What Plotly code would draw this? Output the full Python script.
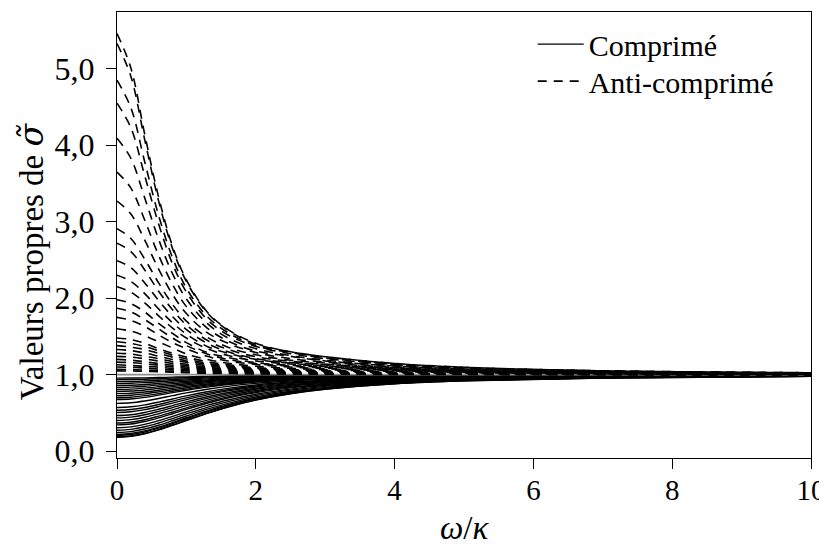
import plotly.graph_objects as go

# frequency grid (omega / kappa)
omega = [0, 0.2, 0.4, 0.6, 0.8, 1.0, 1.3, 1.6, 2.0, 2.5, 3.0, 4.0, 5.0, 7.0, 10.0]

# anti-squeezed eigenvalues (dashed), one list per curve
anti = [
    [5.46, 5.01, 4.14, 3.32, 2.68, 2.24, 1.82, 1.59, 1.41, 1.30, 1.235, 1.147, 1.098, 1.051, 1.026],
    [5.33, 4.90, 4.07, 3.27, 2.65, 2.22, 1.81, 1.58, 1.40, 1.30, 1.235, 1.146, 1.096, 1.051, 1.026],
    [4.85, 4.49, 3.78, 3.08, 2.53, 2.13, 1.76, 1.55, 1.38, 1.29, 1.22, 1.138, 1.091, 1.050, 1.024],
    [4.55, 4.23, 3.60, 2.97, 2.45, 2.08, 1.72, 1.52, 1.37, 1.275, 1.21, 1.132, 1.088, 1.048, 1.022],
    [4.09, 3.83, 3.31, 2.77, 2.32, 1.99, 1.67, 1.48, 1.34, 1.25, 1.19, 1.123, 1.082, 1.045, 1.022],
    [3.65, 3.44, 3.02, 2.56, 2.18, 1.89, 1.61, 1.44, 1.31, 1.24, 1.18, 1.114, 1.076, 1.040, 1.019],
    [3.27, 3.10, 2.76, 2.38, 2.05, 1.80, 1.55, 1.41, 1.29, 1.21, 1.166, 1.105, 1.070, 1.037, 1.018],
    [2.91, 2.78, 2.51, 2.20, 1.92, 1.70, 1.49, 1.36, 1.26, 1.19, 1.152, 1.095, 1.064, 1.034, 1.016],
    [2.72, 2.61, 2.37, 2.09, 1.85, 1.65, 1.45, 1.33, 1.235, 1.175, 1.138, 1.089, 1.059, 1.032, 1.016],
    [2.49, 2.40, 2.20, 1.97, 1.76, 1.59, 1.41, 1.30, 1.21, 1.16, 1.128, 1.081, 1.054, 1.029, 1.014],
    [2.30, 2.22, 2.06, 1.86, 1.68, 1.53, 1.37, 1.28, 1.20, 1.15, 1.117, 1.074, 1.050, 1.027, 1.013],
    [2.15, 2.08, 1.94, 1.77, 1.61, 1.48, 1.34, 1.25, 1.18, 1.14, 1.108, 1.068, 1.045, 1.024, 1.012],
    [1.98, 1.93, 1.82, 1.67, 1.54, 1.42, 1.29, 1.225, 1.157, 1.123, 1.097, 1.062, 1.040, 1.022, 1.011],
    [1.87, 1.82, 1.72, 1.60, 1.48, 1.38, 1.27, 1.20, 1.146, 1.111, 1.088, 1.056, 1.037, 1.019, 1.010],
    [1.75, 1.71, 1.63, 1.52, 1.42, 1.34, 1.24, 1.18, 1.134, 1.100, 1.079, 1.050, 1.034, 1.018, 1.009],
    [1.60, 1.57, 1.51, 1.43, 1.35, 1.27, 1.20, 1.15, 1.110, 1.084, 1.066, 1.042, 1.028, 1.014, 1.007],
    [1.48, 1.46, 1.41, 1.34, 1.28, 1.23, 1.17, 1.128, 1.091, 1.069, 1.055, 1.035, 1.023, 1.013, 1.006],
    [1.43, 1.41, 1.368, 1.312, 1.255, 1.205, 1.149, 1.113, 1.083, 1.063, 1.050, 1.032, 1.021, 1.011, 1.006],
    [1.38, 1.36, 1.33, 1.28, 1.23, 1.18, 1.136, 1.10, 1.074, 1.056, 1.046, 1.029, 1.019, 1.011, 1.005],
    [1.33, 1.315, 1.284, 1.242, 1.199, 1.161, 1.117, 1.089, 1.066, 1.050, 1.040, 1.025, 1.017, 1.009, 1.005],
    [1.28, 1.27, 1.24, 1.21, 1.17, 1.136, 1.10, 1.077, 1.057, 1.044, 1.035, 1.022, 1.016, 1.008, 1.004],
    [1.24, 1.230, 1.208, 1.178, 1.147, 1.119, 1.087, 1.067, 1.049, 1.038, 1.030, 1.019, 1.013, 1.007, 1.003],
    [1.20, 1.19, 1.17, 1.146, 1.123, 1.10, 1.074, 1.056, 1.041, 1.031, 1.025, 1.016, 1.011, 1.006, 1.003],
    [1.165, 1.158, 1.143, 1.124, 1.102, 1.083, 1.061, 1.047, 1.035, 1.027, 1.021, 1.014, 1.009, 1.005, 1.002],
    [1.13, 1.12, 1.11, 1.098, 1.081, 1.066, 1.048, 1.037, 1.028, 1.021, 1.017, 1.011, 1.008, 1.004, 1.002],
    [1.10, 1.096, 1.087, 1.075, 1.063, 1.051, 1.038, 1.029, 1.022, 1.017, 1.013, 1.008, 1.006, 1.003, 1.002],
    [1.07, 1.067, 1.061, 1.053, 1.044, 1.036, 1.026, 1.020, 1.016, 1.011, 1.010, 1.006, 1.005, 1.002, 1.001],
    [1.050, 1.048, 1.044, 1.038, 1.032, 1.026, 1.019, 1.015, 1.011, 1.008, 1.007, 1.004, 1.003, 1.002, 1.001],
]

# squeezed eigenvalues (solid), one list per curve
comp = [
    [0.183, 0.195, 0.228, 0.278, 0.338, 0.401, 0.494, 0.577, 0.668, 0.751, 0.809, 0.880, 0.919, 0.957, 0.978],
    [0.188, 0.199, 0.233, 0.282, 0.342, 0.406, 0.498, 0.581, 0.671, 0.753, 0.811, 0.882, 0.920, 0.957, 0.978],
    [0.206, 0.218, 0.251, 0.301, 0.360, 0.424, 0.515, 0.596, 0.684, 0.764, 0.819, 0.887, 0.924, 0.959, 0.980],
    [0.220, 0.231, 0.265, 0.315, 0.374, 0.437, 0.527, 0.607, 0.693, 0.771, 0.825, 0.891, 0.927, 0.961, 0.980],
    [0.244, 0.256, 0.290, 0.339, 0.398, 0.460, 0.549, 0.626, 0.709, 0.784, 0.835, 0.898, 0.931, 0.963, 0.982],
    [0.274, 0.286, 0.319, 0.369, 0.426, 0.487, 0.573, 0.648, 0.727, 0.798, 0.847, 0.905, 0.936, 0.966, 0.983],
    [0.306, 0.318, 0.351, 0.399, 0.456, 0.515, 0.598, 0.670, 0.745, 0.812, 0.858, 0.912, 0.941, 0.968, 0.984],
    [0.344, 0.355, 0.388, 0.435, 0.490, 0.547, 0.627, 0.695, 0.765, 0.828, 0.870, 0.920, 0.946, 0.972, 0.986],
    [0.368, 0.379, 0.411, 0.458, 0.512, 0.567, 0.645, 0.710, 0.778, 0.837, 0.877, 0.924, 0.949, 0.973, 0.987],
    [0.401, 0.413, 0.444, 0.489, 0.541, 0.595, 0.668, 0.730, 0.794, 0.850, 0.887, 0.931, 0.954, 0.975, 0.988],
    [0.435, 0.446, 0.476, 0.520, 0.570, 0.621, 0.691, 0.750, 0.810, 0.861, 0.896, 0.936, 0.957, 0.977, 0.989],
    [0.466, 0.476, 0.506, 0.548, 0.596, 0.645, 0.712, 0.767, 0.823, 0.871, 0.904, 0.941, 0.961, 0.979, 0.990],
    [0.505, 0.515, 0.543, 0.583, 0.629, 0.675, 0.737, 0.788, 0.840, 0.884, 0.913, 0.947, 0.965, 0.981, 0.991],
    [0.535, 0.545, 0.572, 0.610, 0.654, 0.697, 0.756, 0.804, 0.852, 0.893, 0.920, 0.951, 0.968, 0.983, 0.991],
    [0.572, 0.581, 0.606, 0.642, 0.683, 0.724, 0.778, 0.822, 0.866, 0.904, 0.928, 0.956, 0.971, 0.985, 0.992],
    [0.625, 0.633, 0.657, 0.689, 0.726, 0.762, 0.809, 0.848, 0.886, 0.918, 0.939, 0.963, 0.976, 0.987, 0.994],
    [0.676, 0.683, 0.704, 0.733, 0.765, 0.796, 0.838, 0.871, 0.904, 0.931, 0.949, 0.969, 0.980, 0.989, 0.995],
    [0.699, 0.706, 0.726, 0.753, 0.783, 0.812, 0.851, 0.882, 0.912, 0.937, 0.953, 0.972, 0.981, 0.990, 0.995],
    [0.725, 0.732, 0.750, 0.775, 0.803, 0.830, 0.865, 0.893, 0.920, 0.943, 0.958, 0.975, 0.983, 0.991, 0.996],
    [0.752, 0.758, 0.774, 0.797, 0.823, 0.847, 0.879, 0.904, 0.929, 0.949, 0.962, 0.977, 0.985, 0.992, 0.996],
    [0.781, 0.786, 0.801, 0.821, 0.844, 0.866, 0.894, 0.916, 0.938, 0.956, 0.967, 0.980, 0.987, 0.993, 0.997],
    [0.806, 0.811, 0.825, 0.843, 0.863, 0.882, 0.907, 0.927, 0.946, 0.961, 0.971, 0.983, 0.989, 0.994, 0.997],
    [0.833, 0.838, 0.849, 0.865, 0.883, 0.899, 0.921, 0.938, 0.954, 0.967, 0.976, 0.985, 0.990, 0.995, 0.997],
    [0.858, 0.862, 0.872, 0.886, 0.901, 0.915, 0.933, 0.947, 0.961, 0.972, 0.980, 0.988, 0.992, 0.996, 0.998],
    [0.885, 0.888, 0.896, 0.908, 0.920, 0.931, 0.946, 0.958, 0.969, 0.978, 0.984, 0.990, 0.994, 0.997, 0.998],
    [0.909, 0.911, 0.918, 0.927, 0.937, 0.946, 0.958, 0.967, 0.976, 0.983, 0.987, 0.992, 0.995, 0.997, 0.999],
    [0.935, 0.936, 0.941, 0.948, 0.955, 0.961, 0.970, 0.976, 0.983, 0.988, 0.991, 0.995, 0.996, 0.998, 0.999],
    [0.955, 0.956, 0.959, 0.963, 0.968, 0.972, 0.978, 0.983, 0.987, 0.991, 0.993, 0.996, 0.997, 0.999, 0.999],
]

# reference level (vacuum noise)
ref_x = [0, 10]
ref_y = [1.0, 1.0]

x_ticks = [0, 2, 4, 6, 8, 10]
x_ticktext = ["0", "2", "4", "6", "8", "10"]
y_ticks = [0, 1, 2, 3, 4, 5]
y_ticktext = ["0,0", "1,0", "2,0", "3,0", "4,0", "5,0"]

FONT = "Liberation Serif"
YTICK_SIZE = 32
XTICK_SIZE = 29
TITLE_SIZE = 33
LEG_SIZE = 30

fig = go.Figure()

for i, ys in enumerate(comp):
    fig.add_trace(go.Scatter(
        x=omega, y=ys, mode="lines",
        line=dict(color="black", width=1.4, shape="spline", smoothing=1.0),
        name="Comprimé", legend="legend", showlegend=(i == 0)))

fig.add_trace(go.Scatter(x=ref_x, y=ref_y, mode="lines",
                         line=dict(color="#8c8c8c", width=1.8),
                         showlegend=False, hoverinfo="skip"))

for i, ys in enumerate(anti):
    fig.add_trace(go.Scatter(
        x=omega, y=ys, mode="lines",
        line=dict(color="black", width=1.6, dash="9px,7px", shape="spline", smoothing=1.0),
        name="Anti-comprimé", legend="legend2", showlegend=(i == 0)))

axis_common = dict(
    showline=True, linecolor="black", linewidth=1.3, mirror=True,
    ticks="outside", ticklen=10, tickwidth=1.3, tickcolor="black",
    showgrid=False, zeroline=False, automargin=False, ticklabeloverflow="allow",
)

fig.update_xaxes(range=[0, 10], tickvals=x_ticks, ticktext=x_ticktext,
                 ticklabelstandoff=-4,
                 tickfont=dict(family=FONT, size=XTICK_SIZE, color="black"),
                 **axis_common)
fig.update_yaxes(range=[-0.089, 5.742], tickvals=y_ticks, ticktext=y_ticktext,
                 ticklabelstandoff=5,
                 tickfont=dict(family=FONT, size=YTICK_SIZE, color="black"),
                 **axis_common)

# axis titles
fig.add_annotation(text="<i>ω</i>/<i>κ</i>", xref="paper", yref="paper",
                   x=0.5, y=0, xanchor="center", yanchor="middle", yshift=-70,
                   showarrow=False, font=dict(family=FONT, size=TITLE_SIZE, color="black"))
fig.add_annotation(text="Valeurs propres de <span style=\"font-family:'DejaVu Serif'\"><i>σ̃</i></span>",
                   xref="paper", yref="paper",
                   x=0, y=0.441, xanchor="center", yanchor="middle", xshift=-86, textangle=-90,
                   showarrow=False, font=dict(family=FONT, size=TITLE_SIZE, color="black"))

leg_common = dict(xanchor="left", yanchor="middle", bgcolor="rgba(0,0,0,0)",
                  borderwidth=0, itemwidth=46,
                  font=dict(family=FONT, size=LEG_SIZE, color="black"))

fig.update_layout(
    width=819, height=540,
    margin=dict(l=109, r=16, t=4, b=90),
    paper_bgcolor="white", plot_bgcolor="white",
    font=dict(family=FONT, color="black"),
    legend=dict(x=0.599, y=0.928, **leg_common),
    legend2=dict(x=0.599, y=0.845, **leg_common),
    showlegend=True,
)

fig.write_html("out.html")
